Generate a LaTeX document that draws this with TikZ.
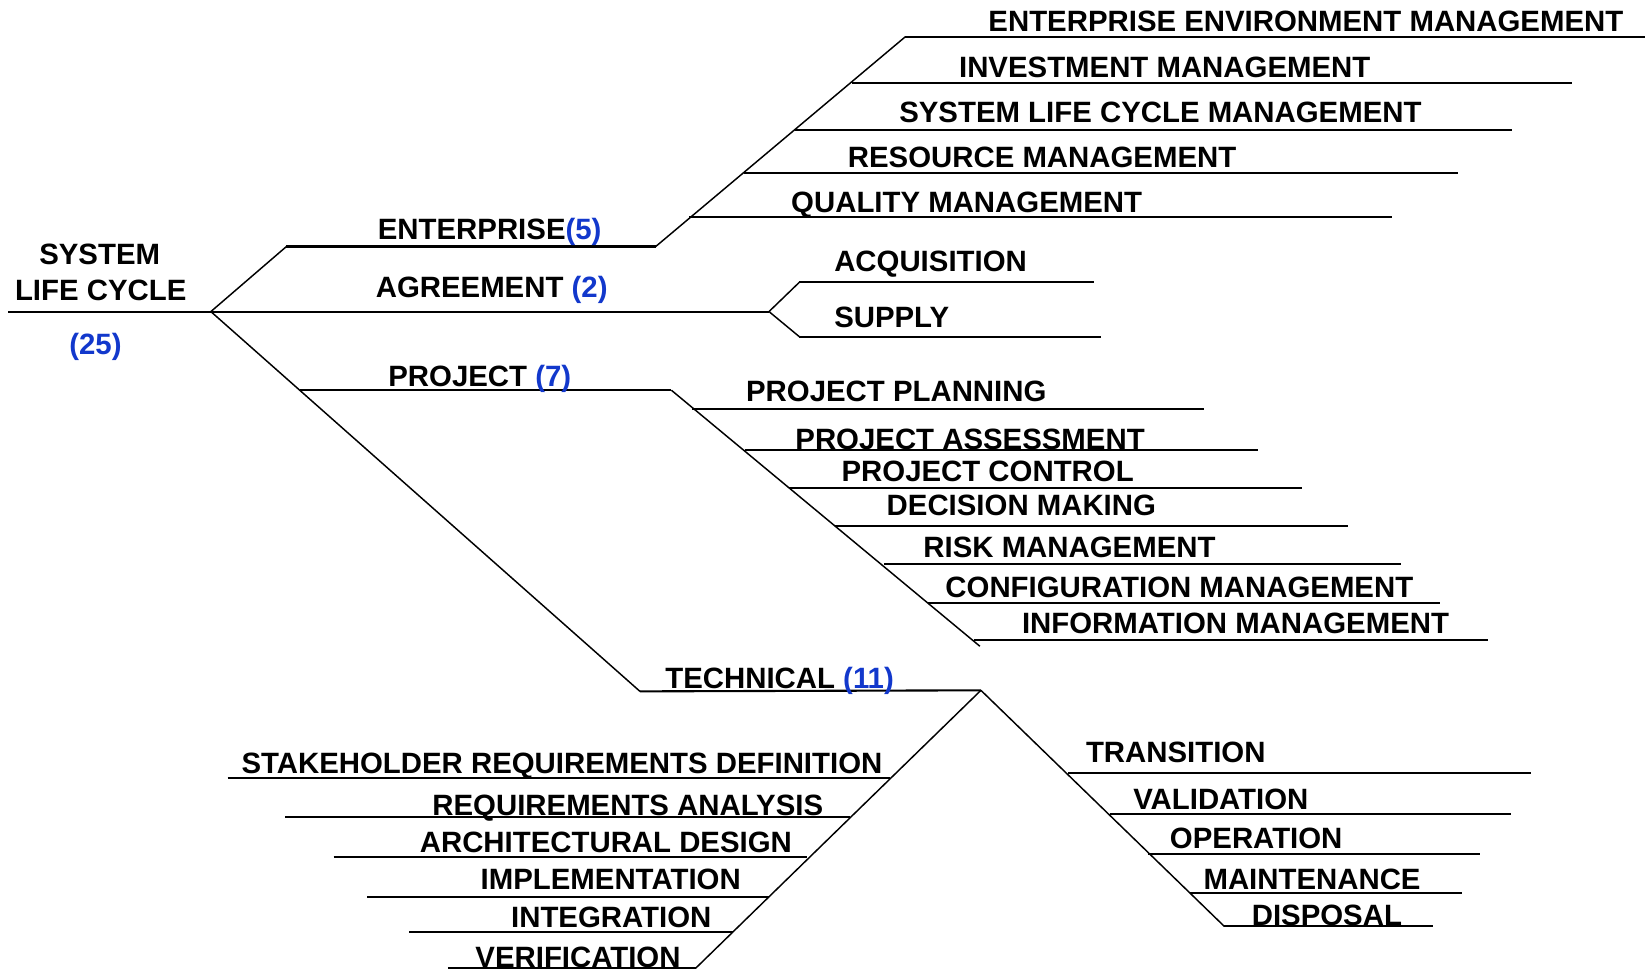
\documentclass[tikz,border=0pt]{standalone}
\usepackage{fontspec}
\setmainfont{Liberation Sans}
\definecolor{countblue}{RGB}{18,56,204}
\begin{document}
\begin{tikzpicture}[x=1pt,y=-1pt,
  lbl/.style={anchor=base west,inner sep=0pt,font=\fontsize{28}{30}\selectfont\bfseries},
  mid/.style={anchor=base,inner sep=0pt,font=\fontsize{28}{30}\selectfont\bfseries},
  rail/.style={line width=2pt},
  stem/.style={line width=1.4pt}]
\useasboundingbox (0,0) rectangle (1568,925);
\newcommand{\cnt}[1]{\textcolor{countblue}{#1}}

% ---- root ----
\node[mid] (sys)  at (95,252) {SYSTEM};
\node[mid] (life) at (96,286) {LIFE CYCLE};
\node[mid,text=countblue] (tot) at (91,338) {(25)};
\coordinate (r0) at (8,297);
\coordinate (hub) at (201,297);
\draw[rail] (r0) -- (hub);

% ---- level 1 branches ----
\coordinate (ent0) at (273,235);  \coordinate (ent1) at (625,235);
\coordinate (agr1) at (733,297);
\coordinate (prj0) at (286,372);  \coordinate (prj1) at (640,372);
\coordinate (tec0) at (610,659);  \coordinate (tec1) at (935,658);
\draw[stem] (hub) -- (ent0);
\draw[rail] (ent0) -- (ent1);
\draw[rail] (hub) -- (agr1);
\draw[stem] (hub) -- (tec0);
\draw[rail] (prj0) -- (prj1);
\draw[rail] (tec0) -- (tec1);
\node[lbl] (ent) at (360,228) {ENTERPRISE\cnt{(5)}};
\node[lbl] (agr) at (358,284) {AGREEMENT \cnt{(2)}};
\node[lbl] (prj) at (370,368) {PROJECT \cnt{(7)}};
\node[lbl] (tec) at (634,656) {TECHNICAL \cnt{(11)}};

% ---- enterprise processes ----
\coordinate (et) at (863,35);
\draw[stem] (ent1) -- (et);
\coordinate (e1a) at (863,35);  \coordinate (e1b) at (1568,35);
\coordinate (e2a) at (812,79);  \coordinate (e2b) at (1498,79);
\coordinate (e3a) at (758,124); \coordinate (e3b) at (1441,124);
\coordinate (e4a) at (709,165); \coordinate (e4b) at (1390,165);
\coordinate (e5a) at (657,207); \coordinate (e5b) at (1327,207);
\foreach \i in {1,...,5} {\draw[rail] (e\i a) -- (e\i b);}
\node[lbl] (eem) at (942,30)  {ENTERPRISE ENVIRONMENT MANAGEMENT};
\node[lbl] (inv) at (914,74)  {INVESTMENT MANAGEMENT};
\node[lbl] (slc) at (857,117) {SYSTEM LIFE CYCLE MANAGEMENT};
\node[lbl] (res) at (808,160) {RESOURCE MANAGEMENT};
\node[lbl] (qua) at (754,203) {QUALITY MANAGEMENT};

% ---- agreement processes ----
\coordinate (a1a) at (762,269); \coordinate (a1b) at (1043,269);
\coordinate (a2a) at (762,321); \coordinate (a2b) at (1049,321);
\draw[stem] (a1a) -- (agr1) -- (a2a);
\draw[rail] (a1a) -- (a1b);
\draw[rail] (a2a) -- (a2b);
\node[lbl] (acq) at (795,259) {ACQUISITION};
\node[lbl] (sup) at (795,312) {SUPPLY};

% ---- project processes ----
\coordinate (pt) at (934,616);
\draw[stem] (prj1) -- (pt);
\coordinate (p1a) at (660,390); \coordinate (p1b) at (1148,390);
\coordinate (p2a) at (710,429); \coordinate (p2b) at (1199,429);
\coordinate (p3a) at (752,465); \coordinate (p3b) at (1241,465);
\coordinate (p4a) at (796,501); \coordinate (p4b) at (1285,501);
\coordinate (p5a) at (843,538); \coordinate (p5b) at (1335,538);
\coordinate (p6a) at (885,575); \coordinate (p6b) at (1373,575);
\coordinate (p7a) at (928,610); \coordinate (p7b) at (1418,610);
\foreach \i in {1,...,7} {\draw[rail] (p\i a) -- (p\i b);}
\node[lbl] (ppl) at (711,383) {PROJECT PLANNING};
\node[lbl] (pas) at (758,428) {PROJECT ASSESSMENT};
\node[lbl] (pco) at (802,459) {PROJECT CONTROL};
\node[lbl] (dec) at (845,491) {DECISION MAKING};
\node[lbl] (rsk) at (880,531) {RISK MANAGEMENT};
\node[lbl] (cfg) at (901,570) {CONFIGURATION MANAGEMENT};
\node[lbl] (inf) at (974,604) {INFORMATION MANAGEMENT};

% ---- technical processes, left fan ----
\coordinate (tl) at (663,923);
\draw[stem] (tec1) -- (tl);
\coordinate (t1a) at (217,742); \coordinate (t1b) at (848,742);
\coordinate (t2a) at (272,779); \coordinate (t2b) at (810,779);
\coordinate (t3a) at (318,817); \coordinate (t3b) at (769,817);
\coordinate (t4a) at (350,855); \coordinate (t4b) at (733,855);
\coordinate (t5a) at (390,888); \coordinate (t5b) at (699,888);
\coordinate (t6a) at (427,923); \coordinate (t6b) at (663,923);
\foreach \i in {1,...,6} {\draw[rail] (t\i a) -- (t\i b);}
\node[lbl] (srd) at (230,737) {STAKEHOLDER REQUIREMENTS DEFINITION};
\node[lbl] (rqa) at (412,777) {REQUIREMENTS ANALYSIS};
\node[lbl] (arc) at (400,813) {ARCHITECTURAL DESIGN};
\node[lbl] (imp) at (458,848) {IMPLEMENTATION};
\node[lbl] (itg) at (487,884) {INTEGRATION};
\node[lbl] (ver) at (453,922) {VERIFICATION};

% ---- technical processes, right fan ----
\coordinate (tr) at (1167,883);
\draw[stem] (tec1) -- (tr);
\coordinate (u1a) at (1018,737); \coordinate (u1b) at (1459,737);
\coordinate (u2a) at (1058,776); \coordinate (u2b) at (1440,776);
\coordinate (u3a) at (1094,814); \coordinate (u3b) at (1411,814);
\coordinate (u4a) at (1134,851); \coordinate (u4b) at (1394,851);
\coordinate (u5a) at (1167,883); \coordinate (u5b) at (1366,883);
\foreach \i in {1,...,5} {\draw[rail] (u\i a) -- (u\i b);}
\node[lbl] (tra) at (1035,727) {TRANSITION};
\node[lbl] (val) at (1080,772) {VALIDATION};
\node[lbl] (ope) at (1115,809) {OPERATION};
\node[lbl] (mnt) at (1147,848) {MAINTENANCE};
\node[lbl] (dis) at (1193,882) {DISPOSAL};
\end{tikzpicture}
\end{document}
